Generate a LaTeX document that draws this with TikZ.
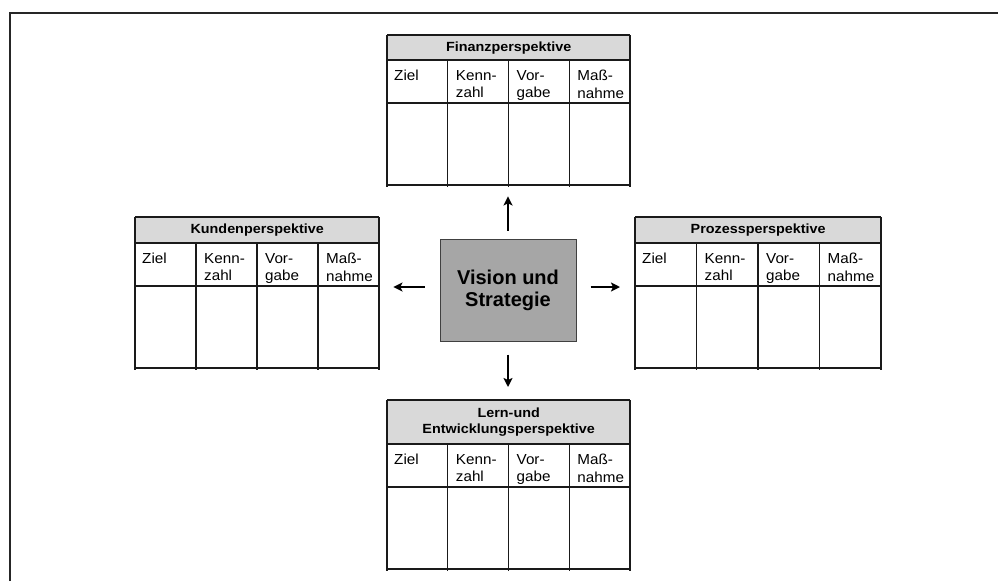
\documentclass[tikz,border=0pt]{standalone}
\usepackage{fontspec}
\setmainfont{Liberation Sans}
\newfontfamily\hdrfont[FakeStretch=1.08]{Liberation Sans}
\newfontfamily\cellfont[FakeStretch=1.05]{Liberation Sans}
\usetikzlibrary{arrows.meta}
\definecolor{hdrgray}{HTML}{D9D9D9}
\definecolor{boxgray}{HTML}{A6A6A6}
\definecolor{linecol}{HTML}{1A1A1A}
\tikzset{
  tline/.style={draw=linecol, line width=1.1pt},
  hdr/.style={fill=hdrgray, draw=none, inner sep=0pt, align=center,
    font=\hdrfont\bfseries\fontsize{13.3}{16}\selectfont},
  celltext/.style={anchor=north west, inner sep=0pt, align=left,
    font=\cellfont\fontsize{14.5}{17.5}\selectfont},
  framebox/.style={draw=none, inner sep=0pt, anchor=north west},
  visionbox/.style={fill=boxgray, draw=black!75, line width=1pt, align=center,
    minimum width=136pt, minimum height=102pt, inner sep=0pt,
    font=\bfseries\fontsize{20}{22}\selectfont},
  arr/.style={-{Stealth[length=9pt,width=9pt,inset=2pt]}, line width=1.9pt, draw=black}
}
% #1 name, #2 left x, #3 top y, #4 header height, #5 header text, #6 width
\newcommand\bsctab[6]{%
  \node[framebox, minimum width=#6pt, minimum height={#4pt+125pt}] (#1) at (#2,#3) {};
  \node[hdr, anchor=north west, minimum width=#6pt, minimum height=#4pt] (#1-h) at (#2,#3) {#5};
  \draw[tline] (#2,#3) -- ({#2+#6},#3);
  \draw[tline] (#2,{#3+#4}) -- ({#2+#6},{#3+#4});
  \draw[tline] (#2,{#3+#4+43}) -- ({#2+#6},{#3+#4+43});
  \draw[tline] (#2,{#3+#4+125}) -- ({#2+#6},{#3+#4+125});
  \draw[tline] (#2,#3) -- (#2,{#3+#4+127});
  \draw[tline] ({#2+#6},#3) -- ({#2+#6},{#3+#4+127});
  \foreach \k in {1,2,3}{
    \draw[tline] ({#2+#6/4*\k},{#3+#4}) -- ({#2+#6/4*\k},{#3+#4+127});
  }
  \node[celltext] (#1-c1) at ({#2+7},{#3+#4+10}) {Ziel};
  \node[celltext] (#1-c2) at ({#2+#6/4+8},{#3+#4+10}) {Kenn-\\zahl};
  \node[celltext] (#1-c3) at ({#2+#6/2+8},{#3+#4+10}) {Vor-\\gabe};
  \node[celltext] (#1-c4) at ({#2+#6*3/4+8},{#3+#4+10}) {Maß-\\nahme};
}
\begin{document}
\begin{tikzpicture}[x=1pt,y=-1pt]
\useasboundingbox (0,0) rectangle (998,581);
\fill[white] (0,0) rectangle (998,581);
% outer frame
\draw[draw=black!85, line width=1.8pt] (10,581) -- (10,13) -- (998,13);

\bsctab{fin}{387}{35}{25}{Finanzperspektive}{243}
\bsctab{kun}{135}{217}{26}{Kundenperspektive}{244}
\bsctab{pro}{635}{217}{26}{Prozessperspektive}{246}
\bsctab{lern}{387}{400}{44}{Lern-und\\Entwicklungsperspektive}{243}

\node[visionbox] (vision) at (508,290) {Vision und\\Strategie};

\draw[arr, shorten <=8pt, shorten >=11pt] (vision.north) -- (vision.north |- fin.south);
\draw[arr, shorten <=13pt, shorten >=13pt] (vision.south) -- (vision.south |- lern.north);
\draw[arr, shorten <=15pt, shorten >=14pt] ([yshift=3pt]vision.west) -- ([yshift=3pt]vision.west -| kun.east);
\draw[arr, shorten <=14pt, shorten >=15pt] ([yshift=3pt]vision.east) -- ([yshift=3pt]vision.east -| pro.west);
\end{tikzpicture}
\end{document}
